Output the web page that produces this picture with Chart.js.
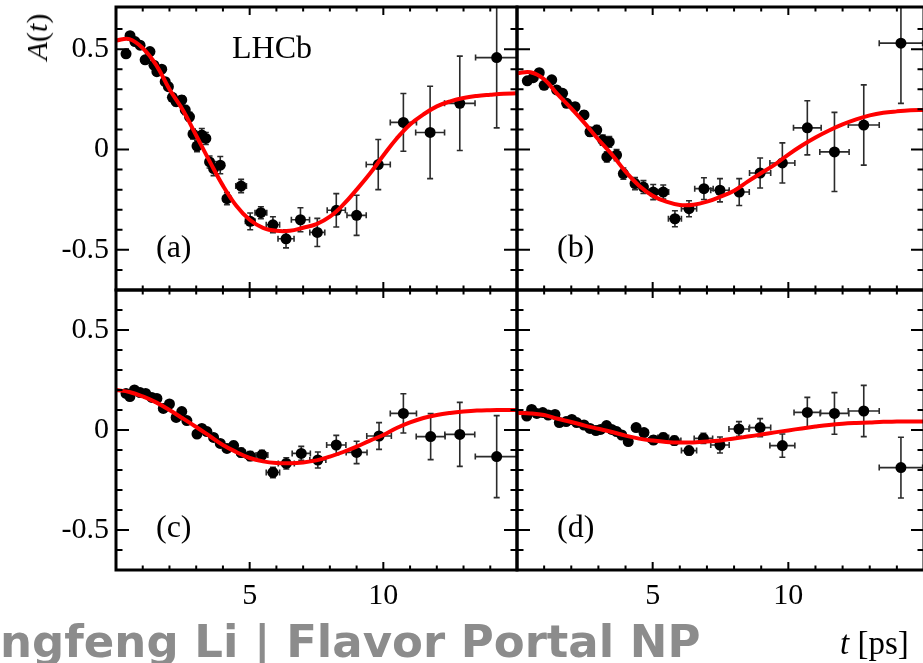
<!DOCTYPE html>
<html>
<head>
<meta charset="utf-8">
<script src="https://cdn.jsdelivr.net/npm/chart.js@4/dist/chart.umd.min.js"></script>
<style>
  html, body { margin: 0; padding: 0; background: #fff; overflow: hidden; }
  #wrap { position: relative; width: 923px; height: 663px; overflow: hidden; }
  canvas { position: absolute; left: 0; top: 0; }
  .txt { position: absolute; font-family: 'Liberation Serif', 'Times New Roman', serif; color: #000; line-height: 1; white-space: nowrap; z-index: 5; }
  .wm { position: absolute; font-family: 'DejaVu Sans', sans-serif; font-weight: bold; color: #8c8c8c; line-height: 1; white-space: nowrap; z-index: 5; }
</style>
</head>
<body>
<div id="wrap">
  <canvas id="pa" width="930" height="663"></canvas>
  <canvas id="pb" width="930" height="663"></canvas>
  <canvas id="pc" width="930" height="663"></canvas>
  <canvas id="pd" width="930" height="663"></canvas>
  <div class="txt" style="left:37px;top:37px;font-size:30px;transform:translate(-50%,-50%) rotate(-90deg);"><i>A</i>(<i>t</i>)</div>
  <div class="txt" style="left:232px;top:31px;font-size:32px;">LHCb</div>
  <div class="txt" style="left:156px;top:230px;font-size:32px;">(a)</div>
  <div class="txt" style="left:557px;top:230px;font-size:32px;">(b)</div>
  <div class="txt" style="left:156px;top:510px;font-size:32px;">(c)</div>
  <div class="txt" style="left:557px;top:510px;font-size:32px;">(d)</div>
  <div class="txt" style="left:840px;top:627px;font-size:33px;"><i>t</i> [ps]</div>
  <div class="wm" style="left:0px;top:619px;font-size:45px;">ngfeng Li | Flavor Portal NP</div>
</div>
<script>
// ---------------- data ----------------
// panel (a)
const tA  = [0.375,0.525,0.71,0.9,1.09,1.27,1.42,1.53,1.71,1.84,1.96,2.11,2.25,2.46,2.59,2.75,2.88,3.03,3.21,3.36,3.5,3.65,3.9,4.15,4.68,5.02,5.42,5.87,6.36,6.9,7.53,8.24,9.0,9.81,10.75,11.75,12.86,14.24];
const aA  = [0.477,0.567,0.538,0.52,0.447,0.488,0.42,0.388,0.40,0.338,0.313,0.26,0.238,0.247,0.197,0.163,0.077,0.017,0.072,0.055,-0.062,-0.095,-0.078,-0.245,-0.182,-0.358,-0.315,-0.375,-0.445,-0.35,-0.413,-0.303,-0.328,-0.075,0.135,0.085,0.23,0.458];
const exA = [0.06,0.06,0.06,0.06,0.06,0.06,0.06,0.06,0.07,0.07,0.07,0.07,0.07,0.08,0.08,0.08,0.08,0.09,0.09,0.09,0.1,0.1,0.12,0.13,0.2,0.18,0.22,0.25,0.3,0.34,0.28,0.34,0.36,0.45,0.49,0.54,0.57,0.79];
const eyA = [0.015,0.015,0.015,0.015,0.015,0.015,0.016,0.016,0.017,0.017,0.018,0.018,0.02,0.02,0.022,0.022,0.025,0.028,0.033,0.03,0.03,0.035,0.043,0.03,0.033,0.042,0.03,0.04,0.045,0.06,0.07,0.083,0.1,0.125,0.144,0.23,0.235,0.35];
// panel (b)
const tB  = [0.38,0.6,0.82,1.0,1.28,1.46,1.68,1.83,2.14,2.47,2.69,2.94,3.16,3.31,3.4,3.67,3.92,4.35,4.66,5.02,5.39,5.82,6.34,6.89,7.48,8.19,8.96,9.78,10.7,11.7,12.78,14.15];
const aB  = [0.342,0.358,0.383,0.32,0.347,0.297,0.28,0.23,0.213,0.172,0.088,0.097,0.047,-0.037,0.038,-0.028,-0.12,-0.17,-0.187,-0.212,-0.212,-0.345,-0.295,-0.195,-0.203,-0.212,-0.117,-0.067,0.108,-0.012,0.122,0.53];
const exB = [0.06,0.06,0.06,0.06,0.06,0.06,0.07,0.07,0.07,0.07,0.08,0.08,0.09,0.09,0.09,0.1,0.1,0.12,0.14,0.17,0.2,0.24,0.28,0.34,0.34,0.37,0.39,0.46,0.51,0.54,0.57,0.8];
const eyB = [0.015,0.015,0.015,0.015,0.015,0.016,0.016,0.017,0.018,0.02,0.02,0.022,0.025,0.025,0.026,0.028,0.028,0.03,0.032,0.0375,0.035,0.04,0.04,0.054,0.058,0.067,0.075,0.1,0.135,0.197,0.2,0.3];
// panel (c)
const tC  = [0.375,0.52,0.69,0.9,1.11,1.34,1.53,1.77,2.0,2.25,2.46,2.65,3.03,3.21,3.4,3.65,3.9,4.15,4.4,4.68,5.02,5.46,5.87,6.37,6.93,7.55,8.24,9.0,9.84,10.75,11.77,12.86,14.24];
const aC  = [0.183,0.167,0.2,0.187,0.183,0.163,0.158,0.108,0.13,0.063,0.092,0.047,-0.02,0.008,-0.008,-0.037,-0.067,-0.092,-0.078,-0.113,-0.13,-0.125,-0.212,-0.167,-0.117,-0.15,-0.075,-0.112,-0.03,0.083,-0.033,-0.022,-0.133];
const exC = [0.06,0.06,0.06,0.06,0.06,0.06,0.06,0.07,0.07,0.07,0.08,0.08,0.09,0.09,0.09,0.1,0.1,0.12,0.13,0.15,0.18,0.22,0.25,0.3,0.34,0.3,0.36,0.39,0.46,0.49,0.54,0.56,0.8];
const eyC = [0.012,0.012,0.012,0.012,0.012,0.012,0.013,0.013,0.014,0.014,0.015,0.015,0.016,0.016,0.017,0.018,0.018,0.019,0.02,0.021,0.022,0.024,0.026,0.028,0.035,0.04,0.048,0.056,0.067,0.098,0.115,0.16,0.205];
// panel (d)
const tD  = [0.36,0.54,0.73,0.95,1.15,1.4,1.56,1.81,2.02,2.2,2.47,2.69,2.91,3.08,3.3,3.49,3.67,3.86,4.1,4.39,4.68,5.03,5.39,5.8,6.34,6.87,7.48,8.18,8.96,9.78,10.7,11.7,12.78,14.15];
const aD  = [0.07,0.103,0.083,0.087,0.075,0.078,0.037,0.042,0.053,0.037,0.025,0.008,-0.003,0.003,0.022,0.003,-0.008,-0.025,-0.058,0.012,-0.013,-0.05,-0.037,-0.053,-0.103,-0.042,-0.075,0.005,0.012,-0.078,0.088,0.083,0.095,-0.188];
const exD = [0.06,0.06,0.06,0.06,0.06,0.06,0.06,0.07,0.07,0.07,0.07,0.08,0.08,0.09,0.09,0.09,0.1,0.1,0.12,0.13,0.15,0.18,0.2,0.24,0.28,0.34,0.34,0.37,0.39,0.46,0.49,0.53,0.57,0.8];
const eyD = [0.012,0.012,0.012,0.012,0.012,0.012,0.012,0.013,0.013,0.013,0.014,0.014,0.015,0.015,0.015,0.016,0.016,0.017,0.018,0.018,0.019,0.02,0.021,0.022,0.02,0.025,0.04,0.037,0.045,0.058,0.075,0.104,0.128,0.152];

// fit curves (at these times)
const curveT = [0,0.5,1,1.5,2,2.5,3,3.5,4,4.5,5,5.5,6,6.5,7,7.5,8,8.5,9,9.5,10,10.5,11,11.5,12,12.5,13,13.5,14,14.5,15];
const curveA = [0.543,0.55,0.505,0.422,0.30,0.197,0.07,-0.058,-0.18,-0.28,-0.35,-0.39,-0.405,-0.405,-0.39,-0.372,-0.335,-0.275,-0.2,-0.12,-0.03,0.055,0.125,0.175,0.215,0.24,0.257,0.267,0.273,0.278,0.28];
const curveB = [0.38,0.385,0.35,0.275,0.205,0.13,0.05,-0.025,-0.11,-0.18,-0.23,-0.26,-0.276,-0.275,-0.26,-0.235,-0.205,-0.16,-0.117,-0.075,-0.025,0.02,0.06,0.095,0.125,0.15,0.17,0.183,0.19,0.195,0.197];
const curveC = [0.2,0.19,0.168,0.138,0.1,0.058,0.015,-0.03,-0.075,-0.11,-0.14,-0.157,-0.165,-0.166,-0.162,-0.152,-0.133,-0.11,-0.083,-0.053,-0.025,0.01,0.038,0.06,0.075,0.085,0.092,0.097,0.099,0.1,0.1];
const curveD = [0.085,0.083,0.075,0.056,0.04,0.022,0.006,-0.01,-0.028,-0.043,-0.053,-0.06,-0.063,-0.062,-0.058,-0.052,-0.043,-0.033,-0.023,-0.012,-0.002,0.008,0.017,0.025,0.031,0.035,0.038,0.041,0.042,0.043,0.043];

// ticks
const xTickValues = [5, 10];
const xTickLabels = ['5', '10'];
const xMinorTicks = [1,2,3,4,6,7,8,9,11,12,13,14];
const yTickValues = [-0.5, 0, 0.5];
const yTickLabels = ['-0.5', '0', '0.5'];
const yMinorTicks = [-0.6,-0.4,-0.3,-0.2,-0.1,0.1,0.2,0.3,0.4,0.6];

// ---------------- drawing ----------------
const SERIF = "'Liberation Serif', 'Times New Roman', serif";
const CW = 930, CH = 663;

const decor = {
  id: 'decor',
  beforeDatasetsDraw(chart) {
    const ctx = chart.ctx, a = chart.chartArea, x = chart.scales.x, y = chart.scales.y;
    const ds = chart.data.datasets[1];
    ctx.save();
    ctx.beginPath();
    ctx.rect(a.left, a.top, a.right - a.left, a.bottom - a.top);
    ctx.clip();
    ctx.strokeStyle = '#2b2b2b';
    ctx.lineWidth = 1.6;
    const cap = 3;
    ds.data.forEach((p, i) => {
      const ex = ds.errX[i], ey = ds.errY[i];
      const px = x.getPixelForValue(p.x), py = y.getPixelForValue(p.y);
      const x0 = x.getPixelForValue(p.x - ex), x1 = x.getPixelForValue(p.x + ex);
      const y0 = y.getPixelForValue(p.y - ey), y1 = y.getPixelForValue(p.y + ey);
      ctx.beginPath();
      ctx.moveTo(x0, py); ctx.lineTo(x1, py);
      ctx.moveTo(x0, py - cap); ctx.lineTo(x0, py + cap);
      ctx.moveTo(x1, py - cap); ctx.lineTo(x1, py + cap);
      ctx.moveTo(px, y0); ctx.lineTo(px, y1);
      ctx.moveTo(px - cap, y0); ctx.lineTo(px + cap, y0);
      ctx.moveTo(px - cap, y1); ctx.lineTo(px + cap, y1);
      ctx.stroke();
    });
    ctx.restore();
  },
  afterDraw(chart) {
    const ctx = chart.ctx, a = chart.chartArea, x = chart.scales.x, y = chart.scales.y;
    ctx.save();
    ctx.strokeStyle = '#000';
    ctx.lineWidth = 2;
    ctx.beginPath();
    const xt = (v, len) => {
      const px = x.getPixelForValue(v);
      ctx.moveTo(px, a.top); ctx.lineTo(px, a.top + len);
      ctx.moveTo(px, a.bottom); ctx.lineTo(px, a.bottom - len);
    };
    const yt = (v, len) => {
      const py = y.getPixelForValue(v);
      ctx.moveTo(a.left, py); ctx.lineTo(a.left + len, py);
      ctx.moveTo(a.right, py); ctx.lineTo(a.right - len, py);
    };
    xTickValues.forEach(v => xt(v, 8));
    xMinorTicks.forEach(v => xt(v, 4.5));
    yTickValues.forEach(v => yt(v, 13));
    yMinorTicks.forEach(v => yt(v, 6.5));
    ctx.stroke();
    ctx.lineWidth = 3;
    ctx.strokeRect(a.left, a.top, a.right - a.left, a.bottom - a.top);
    ctx.restore();
  }
};

function makePanel(id, t, A, ex, ey, curve, opt) {
  const pts = t.map((v, i) => ({ x: v, y: A[i] }));
  const line = curveT.map((v, i) => ({ x: v, y: curve[i] }));
  return new Chart(document.getElementById(id), {
    type: 'scatter',
    data: {
      datasets: [
        { type: 'line', data: line, borderColor: '#ff0000', borderWidth: 4, pointRadius: 0,
          tension: 0.4, fill: false, order: 0, clip: 0 },
        { type: 'scatter', data: pts, errX: ex, errY: ey, backgroundColor: '#000', borderColor: '#000',
          borderWidth: 0, pointRadius: 5.5, order: 1, clip: 0 }
      ]
    },
    options: {
      responsive: false, animation: false, events: [],
      layout: { autoPadding: false, padding: opt.padding },
      plugins: { legend: { display: false }, tooltip: { enabled: false } },
      scales: {
        x: {
          type: 'linear', position: 'bottom', min: 0, max: 15,
          grid: { display: false, drawTicks: false }, border: { display: false },
          ticks: {
            display: opt.xLabels, padding: 8, color: '#000', font: { family: SERIF, size: 30 },
            callback: v => { const i = xTickValues.indexOf(v); return i >= 0 ? xTickLabels[i] : ''; }
          },
          afterBuildTicks: s => { s.ticks = xTickValues.map(v => ({ value: v })); },
          afterFit: s => { s.height = opt.xLabels ? 93 : 0; s.paddingLeft = 0; s.paddingRight = 0; s.paddingTop = 0; s.paddingBottom = 0; }
        },
        y: {
          type: 'linear', position: 'left', min: opt.yMin, max: opt.yMax,
          grid: { display: false, drawTicks: false }, border: { display: false },
          ticks: {
            display: opt.yLabels, padding: 7, color: '#000', font: { family: SERIF, size: 30 },
            callback: v => { const i = yTickValues.indexOf(v); return i >= 0 ? yTickLabels[i] : ''; }
          },
          afterBuildTicks: s => { s.ticks = yTickValues.map(v => ({ value: v })); },
          afterFit: s => { s.width = opt.yLabels ? 116 : 0; s.paddingLeft = 0; s.paddingRight = 0; s.paddingTop = 0; s.paddingBottom = 0; }
        }
      }
    },
    plugins: [decor]
  });
}

makePanel('pa', tA, aA, exA, eyA, curveA, { padding: { left: 0, top: 7, right: CW - 517, bottom: CH - 290 }, xLabels: false, yLabels: true, yMin: -0.7, yMax: 0.71 });
makePanel('pb', tB, aB, exB, eyB, curveB, { padding: { left: 517, top: 7, right: CW - 924, bottom: CH - 290 }, xLabels: false, yLabels: false, yMin: -0.7, yMax: 0.71 });
makePanel('pc', tC, aC, exC, eyC, curveC, { padding: { left: 0, top: 290, right: CW - 517, bottom: 0 }, xLabels: true, yLabels: true, yMin: -0.7, yMax: 0.7 });
makePanel('pd', tD, aD, exD, eyD, curveD, { padding: { left: 517, top: 290, right: CW - 924, bottom: 0 }, xLabels: true, yLabels: false, yMin: -0.7, yMax: 0.7 });
</script>
</body>
</html>
